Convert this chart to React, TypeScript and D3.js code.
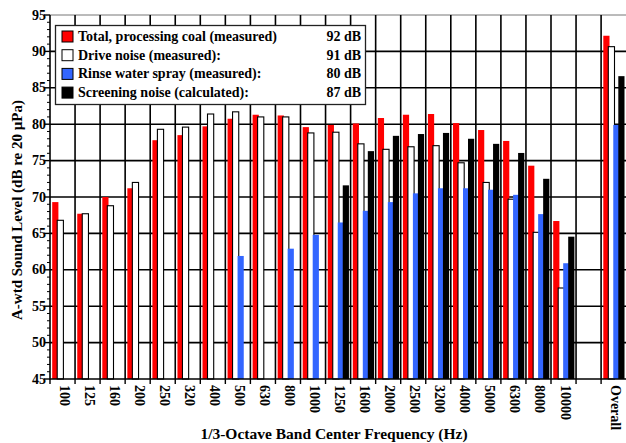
import React from "react";
import * as d3 from "d3";

const categories = ["100","125","160","200","250","320","400","500","630","800","1000","1250","1600","2000","2500","3200","4000","5000","6300","8000","10000","","Overall"];
const tickLabels = categories;

const totalCoal: (number | null)[] = [69.3,67.7,70.0,71.2,77.8,78.5,79.7,80.75,81.3,81.2,79.6,79.9,80.1,80.85,81.3,81.4,80.15,79.2,77.7,74.3,66.7,null,92.15];
const driveNoise: (number | null)[] = [66.8,67.7,68.8,72.0,79.3,79.6,81.4,81.7,81.0,81.0,78.8,78.9,77.3,76.55,76.9,77.05,74.7,72.0,69.7,65.15,57.5,null,90.65];
const rinseSpray: (number | null)[] = [null,null,null,null,null,null,null,61.9,null,62.9,64.8,66.5,68.1,69.3,70.5,71.2,71.2,71.0,70.3,67.65,60.9,null,79.9];
const screening: (number | null)[] = [null,null,null,null,null,null,null,null,null,null,null,71.6,76.3,78.4,78.65,78.8,78.0,77.3,76.05,72.5,64.55,null,86.6];

const legendLabels = ["Total, processing coal (measured)","Drive noise (measured):","Rinse water spray (measured):","Screening noise (calculated):"];
const legendValues = ["92 dB","91 dB","80 dB","87 dB"];

const W = 626, H = 443;
const left = 50, top = 15, bottom = 379;
const slotW = 25.05;
const font = "'Liberation Serif', 'Times New Roman', serif";

const series = [
  { data: totalCoal, fill: "#ff0000", stroke: "none" },
  { data: driveNoise, fill: "#ffffff", stroke: "#000" },
  { data: rinseSpray, fill: "#3366ff", stroke: "none" },
  { data: screening, fill: "#000000", stroke: "none" },
];

export default function App() {
  const keys = categories.map((c, i) => i + ":" + c);
  const x = d3.scaleBand<string>().domain(keys).range([left, left + slotW * categories.length]).padding(0);
  const y = d3.scaleLinear().domain([45, 95]).range([bottom, top]);
  const majors = d3.range(45, 96, 5);
  const minors = d3.range(45, 96, 1).filter((v) => v % 5 !== 0);
  const bw = x.bandwidth();
  const boundaries = keys.map((k) => x(k)!);

  return (
    <svg width={W} height={H} style={{ position: "absolute", left: 0, top: 0, background: "#fff" }} fontFamily={font}>
      <rect x={0} y={0} width={W} height={H} fill="#fff" />
      {majors.filter((v) => v > 45 && v < 95).map((v) => (
        <line key={"hg" + v} x1={left} x2={W} y1={y(v)} y2={y(v)} stroke="#000" strokeWidth={1.6} />
      ))}
      <line x1={left} x2={W} y1={y(95)} y2={y(95)} stroke="#777" strokeWidth={1} />
      {boundaries.slice(1).map((bx, i) => (
        <line key={"vg" + i} x1={bx} x2={bx} y1={top} y2={bottom} stroke="#000" strokeWidth={1.6} />
      ))}
      {series.map((s, si) =>
        s.data.map((v, ci) => {
          if (v == null) return null;
          const bx = x(keys[ci])! + 2.2 + si * 5;
          const by = y(v);
          return (
            <rect key={"b" + si + "_" + ci} x={bx} y={by} width={6.2} height={bottom - by} fill={s.fill}
              stroke={s.stroke} strokeWidth={s.stroke === "none" ? 0 : 1.1} />
          );
        })
      )}
      <line x1={left} x2={left} y1={top} y2={bottom + 0.5} stroke="#000" strokeWidth={1.6} />
      <line x1={left} x2={W} y1={bottom} y2={bottom} stroke="#000" strokeWidth={1.6} />
      {majors.map((v) => (
        <g key={"yt" + v}>
          <line x1={left - 6} x2={left} y1={y(v)} y2={y(v)} stroke="#000" strokeWidth={1.4} />
          <text x={left - 4} y={y(v)} textAnchor="end" dominantBaseline="central" fontSize={14} fontWeight="bold">{v}</text>
        </g>
      ))}
      {minors.map((v) => (
        <line key={"ym" + v} x1={left - 3} x2={left} y1={y(v)} y2={y(v)} stroke="#000" strokeWidth={1} />
      ))}
      {boundaries.map((bx, i) => (
        <line key={"xt" + i} x1={bx} x2={bx} y1={bottom} y2={bottom + 5} stroke="#000" strokeWidth={1.4} />
      ))}
      {tickLabels.map((c, i) => (
        <text key={"xl" + i} transform={`translate(${x(keys[i])! + bw / 2 + 1.5},${bottom + 6}) rotate(90)`}
          textAnchor="start" dominantBaseline="central" fontSize={14} fontWeight="bold">{c}</text>
      ))}
      <text transform={`translate(17,210) rotate(-90)`} textAnchor="middle" dominantBaseline="central" fontSize={15} fontWeight="bold">
        A-wtd Sound Level (dB re 20 µPa)
      </text>
      <text x={334} y={433} textAnchor="middle" dominantBaseline="central" fontSize={15.5} fontWeight="bold">
        1/3-Octave Band Center Frequency (Hz)
      </text>
      <rect x={55.5} y={25.5} width={310} height={79} fill="#fff" stroke="#222" strokeWidth={1.3} />
      {legendLabels.map((l, i) => {
        const cy = 36.5 + i * 18.7;
        return (
          <g key={"lg" + i}>
            <rect x={62} y={cy - 5.5} width={11} height={11} fill={series[i].fill} stroke="#000" strokeWidth={1} />
            <text x={78} y={cy} dominantBaseline="central" fontSize={14} fontWeight="bold">{l}</text>
            <text x={361} y={cy} textAnchor="end" dominantBaseline="central" fontSize={14} fontWeight="bold">{legendValues[i]}</text>
          </g>
        );
      })}
    </svg>
  );
}
